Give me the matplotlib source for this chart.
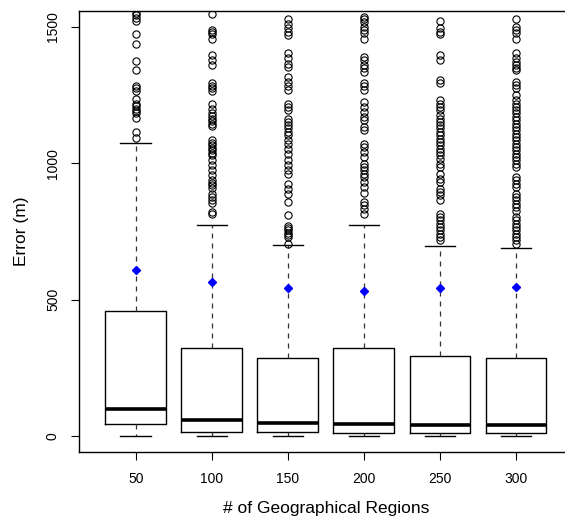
import matplotlib
matplotlib.use("Agg")
import matplotlib.pyplot as plt

plt.rcParams['font.family'] = ['Liberation Sans', 'DejaVu Sans']

categories = ["50", "100", "150", "200", "250", "300"]
q1 = [42, 14, 13, 12, 10, 9]
medians = [100, 60, 48, 42, 41, 41]
q3 = [460, 321, 287, 323, 292, 285]
whisker_low = [1, 1, 1, 1, 1, 1]
whisker_high = [1075, 774, 700, 774, 696, 690]
means = [609, 564, 543, 531, 543, 548]

outliers_50 = [1553, 1544, 1532, 1523, 1473, 1438, 1375, 1341, 1283, 1275, 1266,
               1235, 1219, 1210, 1201, 1192, 1183, 1165, 1115, 1094]
outliers_100 = [1548, 1491, 1483, 1473, 1455, 1397, 1379, 1360, 1293, 1283, 1275,
                1266, 1219, 1201, 1183, 1173, 1164, 1156, 1146, 1137, 1085, 1075,
                1066, 1057, 1048, 1039, 1029, 1011, 993, 974, 956, 938, 928, 919,
                910, 889, 876, 864, 855, 821, 815]
outliers_150 = [1528, 1511, 1495, 1483, 1471, 1403, 1385, 1366, 1354, 1317, 1299,
                1283, 1268, 1219, 1207, 1195, 1164, 1152, 1140, 1128, 1115, 1103,
                1085, 1072, 1054, 1033, 1013, 993, 974, 962, 925, 907, 888, 858,
                812, 772, 764, 755, 745, 737, 729, 705]
outliers_200 = [1536, 1528, 1520, 1501, 1489, 1477, 1455, 1391, 1379, 1360, 1348,
                1336, 1295, 1283, 1268, 1225, 1207, 1189, 1170, 1158, 1133, 1121,
                1072, 1060, 1042, 1023, 999, 987, 974, 962, 950, 931, 913, 891,
                858, 846, 834, 815]
outliers_250 = [1523, 1495, 1483, 1474, 1397, 1379, 1305, 1293, 1232, 1219, 1207,
                1195, 1176, 1164, 1152, 1140, 1128, 1115, 1103, 1091, 1079, 1066,
                1054, 1042, 1029, 1017, 999, 987, 962, 944, 931, 907, 895, 883,
                864, 815, 803, 791, 778, 766, 754, 742, 729, 717]
outliers_300 = [1528, 1501, 1489, 1477, 1458, 1406, 1385, 1373, 1360, 1348, 1342,
                1299, 1287, 1275, 1250, 1232, 1219, 1207, 1195, 1183, 1170, 1158,
                1146, 1133, 1121, 1109, 1097, 1085, 1072, 1060, 1048, 1036, 1023,
                1011, 999, 987, 950, 938, 925, 913, 889, 876, 864, 852, 840, 827,
                803, 791, 778, 766, 754, 742, 729, 717, 705]
outliers = [outliers_50, outliers_100, outliers_150, outliers_200, outliers_250, outliers_300]

stats = []
for i, c in enumerate(categories):
    stats.append(dict(label=c, q1=q1[i], med=medians[i], q3=q3[i],
                      whislo=whisker_low[i], whishi=whisker_high[i],
                      fliers=outliers[i]))

fig = plt.figure(figsize=(5.65, 5.21), dpi=100)
ax = fig.add_axes([79.4 / 565, 1 - 452.3 / 521, (572.3 - 79.4) / 565, (452.3 - 10.7) / 521])

positions = list(range(1, len(categories) + 1))
ax.bxp(stats, positions=positions, widths=0.8, capwidths=0.4, showfliers=True,
       patch_artist=False,
       boxprops=dict(color='black', linewidth=1.0),
       medianprops=dict(color='black', linewidth=2.6, solid_capstyle='butt'),
       whiskerprops=dict(color='#333333', linewidth=0.9, linestyle=(0, (4, 4))),
       capprops=dict(color='black', linewidth=1.0),
       flierprops=dict(marker='o', markerfacecolor='none', markeredgecolor='black',
                       markersize=5.2, markeredgewidth=0.8, linestyle='none'))

ax.plot(positions, means, linestyle='none', marker='D', markersize=3.6,
        color='#0000ff', markeredgecolor='#0000ff', zorder=5)

ax.set_xlim(0.26, 6.74)
ax.set_ylim(-60, 1560)
ax.set_xticks(positions)
ax.set_xticklabels(categories)
ax.set_yticks([0, 500, 1000, 1500])
ax.set_yticklabels(['0', '500', '1000', '1500'], rotation=90, va='center')

ax.tick_params(axis='both', direction='out', length=6, width=0.8, labelsize=10,
               colors='black')
ax.tick_params(axis='x', pad=8)
ax.tick_params(axis='y', pad=8)
for s in ax.spines.values():
    s.set_linewidth(1.0)
    s.set_color('black')
ax.spines['right'].set_visible(False)

ax.set_xlabel('# of Geographical Regions', fontsize=12.5, labelpad=11)
ax.set_ylabel('Error (m)', fontsize=12.5, labelpad=12)

fig.savefig('out.png', dpi=100)
